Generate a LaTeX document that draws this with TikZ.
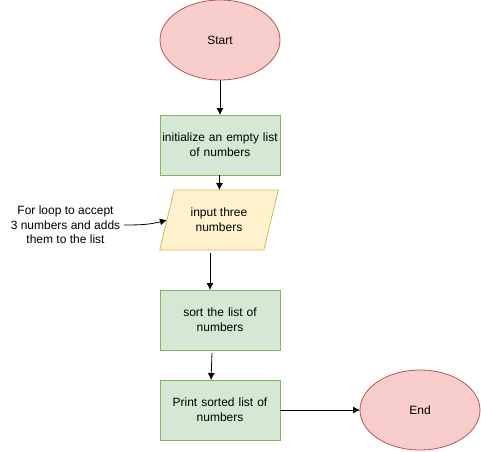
\documentclass[tikz,border=0pt]{standalone}
\usepackage{fontspec}
\setmainfont{Liberation Sans}
\usetikzlibrary{shapes,arrows,arrows.meta,positioning}
\definecolor{greenfill}{HTML}{D5E8D4}
\definecolor{greenline}{HTML}{82B366}
\definecolor{redfill}{HTML}{F8CECC}
\definecolor{redline}{HTML}{B85450}
\definecolor{yellowfill}{HTML}{FFF2CC}
\definecolor{yellowline}{HTML}{D6B656}
\tikzstyle{terminal} = [ellipse, draw=redline, fill=redfill,
    minimum width=120pt, minimum height=80pt, inner sep=0pt, outer sep=0pt]
\tikzstyle{block} = [rectangle, draw=greenline, fill=greenfill,
    text width=116pt, align=center, minimum height=60pt, inner sep=2pt, outer sep=0pt]
\tikzstyle{io} = [trapezium, trapezium left angle=71.6, trapezium right angle=108.4,
    trapezium stretches=true, draw=yellowline, fill=yellowfill,
    minimum width=119pt, minimum height=60pt, align=center, outer sep=0pt]
\tikzstyle{line} = [draw, -{Latex[length=7pt,width=7pt]}]

\begin{document}
\begin{tikzpicture}[node distance=35pt, line width=0.8pt, font=\fontsize{12}{15}\selectfont]
		\useasboundingbox (0pt,0pt) rectangle (481pt,-451pt);
		\node [terminal] (start) at (220pt,-40pt) {Start};
		\node [block, below=of start] (init) {initialize an empty list\\of numbers};
		\node [io, below=15pt of init, xshift=-1pt] (input) {input three\\numbers};
		\node [block, below=40pt of input, xshift=1pt] (sort) {sort the list of\\numbers};
		\node [block, below=30pt of sort] (print) {Print sorted list of\\numbers};
		\node [terminal, right=80pt of print] (end) {End};
		\node [align=center, font=\fontsize{12}{14.5}\selectfont, left=43pt of input, yshift=-5pt] (note) {For loop to accept\\3 numbers and adds\\them to the list};
		
		\path [line] (start) -- (init);
		\path [line] (init) -- (input);
		\path [line] ([xshift=-9pt,yshift=-3pt]input.south) -- ([xshift=-10pt]sort.north);
		\path [line] ([xshift=-8pt,yshift=-3pt]sort.south) -- ([xshift=-9pt]print.north);
		\path [line] (print) -- (end);
		\path [line] (note.east) to[out=0, in=195] (input.west);
	\end{tikzpicture}
\end{document}
